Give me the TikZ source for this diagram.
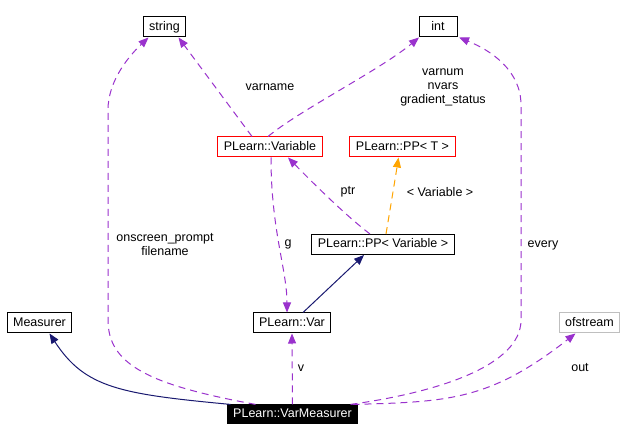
\documentclass[tikz,border=0pt]{standalone}
\usepackage{fontspec}
\setmainfont{Liberation Sans}
\usetikzlibrary{arrows.meta,positioning}
\definecolor{memcol}{HTML}{9A32CD}
\definecolor{inhcol}{HTML}{191970}
\definecolor{tplcol}{HTML}{FFA500}

\begin{document}
\begin{tikzpicture}[
    x=1pt, y=-1pt,
    font=\fontsize{12.5}{14}\selectfont,
    cls/.style={draw, line width=1pt, inner xsep=6pt, minimum width=38pt,
      minimum height=20pt, text height=9pt, text depth=2.5pt},
    undoc/.style={cls, draw=red},
    ext/.style={cls, draw=black!25},
    focus/.style={cls, draw=black, fill=black, text=white, minimum height=18pt},
    mem/.style={draw=memcol, line width=1pt, dash pattern=on 7pt off 5pt,
      -{Triangle[length=10pt,width=8pt]}},
    inh/.style={draw=inhcol, line width=1pt, -{Triangle[length=10pt,width=8pt]}},
    tpl/.style={draw=tplcol, line width=1pt, dash pattern=on 7pt off 5pt,
      -{Triangle[length=10pt,width=8pt]}},
    lbl/.style={align=center, inner sep=0pt}
  ]
    \useasboundingbox[fill=white] (0,0) rectangle (625,441);
    % classes
    \node[cls] (str) at (164.5,27) {string};
    \node[cls] (int) at (438,27) {int};
    \node[undoc] (var) at (270,147) {PLearn::Variable};
    \node[undoc] (ppt) at (402.5,147) {PLearn::PP< T >};
    \node[cls] (ppv) at (383,244.5) {PLearn::PP< Variable >};
    \node[cls] (pvar) at (292,323) {PLearn::Var};
    \node[cls] (meas) at (39.5,323) {Measurer};
    \node[ext] (ofs) at (589.5,323) {ofstream};
    \node[focus] (vm) at (292.5,414) {PLearn::VarMeasurer};
    % members and bases
    \draw[mem] ([xshift=-18]var.north) -- ([xshift=14]str.south);
    \draw[mem] ([xshift=-2]var.north) .. controls (300,110) and (380,70) .. ([xshift=-19]int.south);
    \draw[mem] ([xshift=1]var.south) .. controls (271,230) and (287,270) .. ([xshift=-5]pvar.north);
    \draw[mem] ([xshift=-13]ppv.north) .. controls (345,215) and (310,180) .. ([xshift=18]var.south);
    \draw[tpl] ([xshift=3]ppv.north) .. controls (390,210) and (395,180) .. ([xshift=-4]ppt.south);
    \draw[inh] ([xshift=11]pvar.north) -- ([xshift=-19]ppv.south);
    \draw[mem] (vm.north) -- (pvar.south);
    \draw[inh] ([xshift=-62]vm.north) .. controls (120,394) and (85,388) .. ([xshift=10]meas.south);
    \draw[mem] ([xshift=-37]vm.north) .. controls (150,385) and (108,365) .. (108,320)
      -- (108,110) .. controls (108,80) and (130,55) .. ([xshift=-16]str.south);
    \draw[mem] ([xshift=58]vm.north) .. controls (440,392) and (521,365) .. (521,320)
      -- (521,105) .. controls (521,70) and (490,50) .. ([xshift=21]int.south);
    \draw[mem] ([xshift=60]vm.north) .. controls (450,402) and (490,400) .. ([xshift=-14]ofs.south);
    % labels
    \node[lbl] (lvarname) at (270,87) {varname};
    \node[lbl] (lvarnum) at (443,87) {varnum\\nvars\\gradient\_status};
    \node[lbl] (lg) at (288,244) {g};
    \node[lbl] (lptr) at (348,192) {ptr};
    \node[lbl] (ltpl) at (440,192) {< Variable >};
    \node[lbl] (lscr) at (165,245) {onscreen\_prompt\\filename};
    \node[lbl] (lv) at (301,368) {v};
    \node[lbl] (levery) at (543,245) {every};
    \node[lbl] (lout) at (580,368) {out};
\end{tikzpicture}
\end{document}
